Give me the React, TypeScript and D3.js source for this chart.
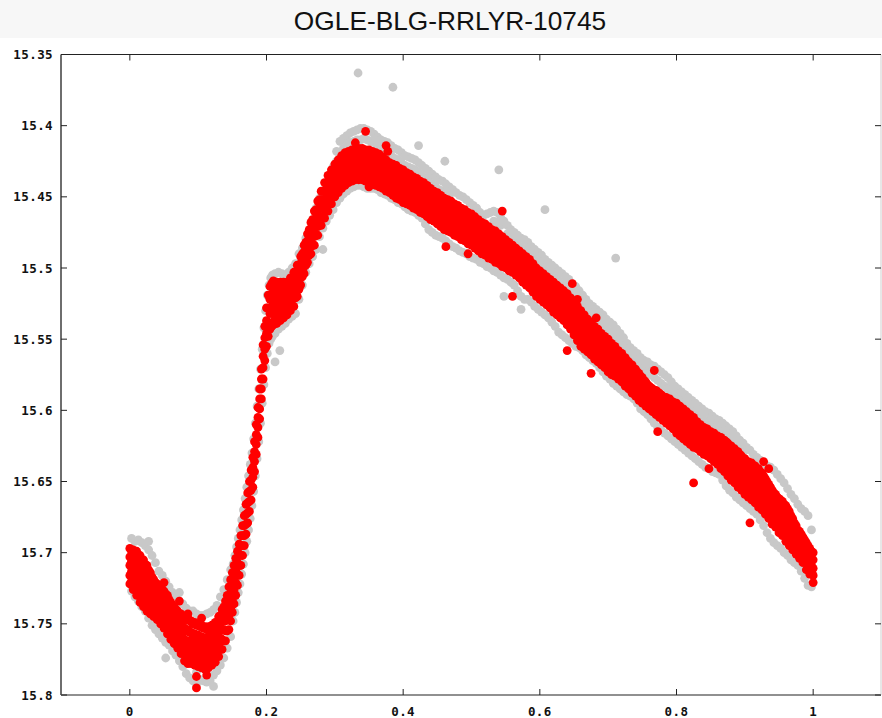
import React from 'react';
import * as d3 from 'd3';

const TITLE = 'OGLE-BLG-RRLYR-10745';
const xTicks = [0, 0.2, 0.4, 0.6, 0.8, 1];
const yTicks = [15.35, 15.4, 15.45, 15.5, 15.55, 15.6, 15.65, 15.7, 15.75, 15.8];

// Each row: [phase, mag, mag, ...] (grey = all measurements)
const grayRows: number[][] = [
  [0.0025, 15.690, 15.706, 15.727], [0.0075, 15.692, 15.731], [0.0125, 15.691, 15.704, 15.734],
  [0.0175, 15.693, 15.738], [0.0225, 15.695, 15.741], [0.0275, 15.692, 15.698, 15.746],
  [0.0325, 15.702, 15.751], [0.0375, 15.707, 15.754], [0.0425, 15.713, 15.757],
  [0.0475, 15.716, 15.760], [0.0525, 15.720, 15.763, 15.774], [0.0575, 15.724, 15.765],
  [0.0625, 15.728, 15.769], [0.0675, 15.730, 15.772], [0.0725, 15.728, 15.734, 15.776],
  [0.0775, 15.736, 15.780], [0.0825, 15.739, 15.785], [0.0875, 15.741, 15.788],
  [0.0925, 15.741, 15.790], [0.0975, 15.743, 15.784, 15.793], [0.1025, 15.744, 15.789],
  [0.1075, 15.744, 15.790], [0.1125, 15.743, 15.791], [0.1175, 15.742, 15.790],
  [0.1225, 15.740, 15.786, 15.794], [0.1275, 15.737, 15.783], [0.1325, 15.731, 15.779],
  [0.1375, 15.726, 15.774], [0.1425, 15.719, 15.767], [0.1475, 15.712, 15.759],
  [0.1512, 15.708, 15.748], [0.1537, 15.702, 15.742], [0.1562, 15.696, 15.735],
  [0.1587, 15.690, 15.728], [0.1612, 15.684, 15.722], [0.1637, 15.677, 15.715],
  [0.1662, 15.670, 15.708], [0.1687, 15.662, 15.700], [0.1712, 15.654, 15.692],
  [0.1737, 15.646, 15.684], [0.1762, 15.638, 15.676], [0.1787, 15.630, 15.667],
  [0.1812, 15.620, 15.657], [0.1837, 15.609, 15.646], [0.1862, 15.597, 15.634],
  [0.1887, 15.585, 15.622], [0.1912, 15.571, 15.609], [0.1937, 15.557, 15.595],
  [0.1962, 15.542, 15.582], [0.1987, 15.530, 15.570], [0.2012, 15.519, 15.560],
  [0.2037, 15.512, 15.553], [0.2062, 15.507, 15.550], [0.2087, 15.505, 15.548],
  [0.2125, 15.504, 15.546, 15.566], [0.2175, 15.503, 15.543], [0.2195, 15.558],
  [0.2225, 15.504, 15.541], [0.2275, 15.505, 15.539], [0.2325, 15.503, 15.536],
  [0.2375, 15.500, 15.534], [0.2425, 15.497, 15.532], [0.2475, 15.490, 15.522],
  [0.2525, 15.486, 15.512], [0.2575, 15.479, 15.503], [0.2625, 15.474, 15.497],
  [0.2675, 15.466, 15.492], [0.2725, 15.458, 15.487], [0.2775, 15.451, 15.478],
  [0.2825, 15.446, 15.472, 15.487], [0.2875, 15.440, 15.467], [0.2925, 15.436, 15.463],
  [0.2975, 15.429, 15.459], [0.3025, 15.418, 15.425, 15.454], [0.3075, 15.411, 15.421, 15.451],
  [0.3125, 15.409, 15.416, 15.448], [0.3175, 15.407, 15.414, 15.446], [0.3225, 15.405, 15.412, 15.444],
  [0.3275, 15.404, 15.411, 15.443], [0.3325, 15.403, 15.410, 15.442], [0.334, 15.363],
  [0.3375, 15.402, 15.410, 15.442], [0.3425, 15.402, 15.409, 15.443], [0.3475, 15.403, 15.410, 15.444],
  [0.3525, 15.404, 15.411, 15.444], [0.3575, 15.406, 15.412, 15.444], [0.3625, 15.408, 15.414, 15.445],
  [0.3675, 15.410, 15.416, 15.447], [0.3725, 15.411, 15.418, 15.448], [0.3775, 15.412, 15.419, 15.449],
  [0.3825, 15.414, 15.421, 15.451], [0.385, 15.373], [0.3875, 15.416, 15.423, 15.452],
  [0.3925, 15.417, 15.424, 15.454], [0.3975, 15.419, 15.426, 15.455], [0.4025, 15.421, 15.428, 15.457],
  [0.4075, 15.422, 15.429, 15.459], [0.4125, 15.423, 15.430, 15.460], [0.4175, 15.424, 15.431, 15.461],
  [0.4225, 15.414, 15.426, 15.433, 15.463], [0.4275, 15.428, 15.435, 15.465], [0.4325, 15.430, 15.437, 15.469],
  [0.4375, 15.432, 15.439, 15.473], [0.4425, 15.434, 15.441, 15.475], [0.4475, 15.436, 15.443, 15.477],
  [0.4525, 15.438, 15.445, 15.478], [0.4575, 15.439, 15.446, 15.479], [0.461, 15.425],
  [0.4625, 15.441, 15.447, 15.481], [0.4675, 15.443, 15.449, 15.483], [0.4725, 15.445, 15.485],
  [0.4775, 15.447, 15.486], [0.4825, 15.449, 15.488], [0.4875, 15.450, 15.489],
  [0.4925, 15.452, 15.490], [0.4975, 15.454, 15.492], [0.5025, 15.456, 15.493],
  [0.5075, 15.458, 15.494], [0.5125, 15.461, 15.496], [0.5175, 15.463, 15.497],
  [0.5225, 15.462, 15.499], [0.5275, 15.461, 15.500], [0.5325, 15.460, 15.467, 15.502],
  [0.5375, 15.461, 15.468, 15.503], [0.540, 15.431], [0.5425, 15.464, 15.470, 15.505],
  [0.5475, 15.467, 15.507, 15.520], [0.5525, 15.470, 15.476, 15.508], [0.5575, 15.473, 15.479, 15.510],
  [0.5625, 15.475, 15.481, 15.512], [0.5675, 15.477, 15.483, 15.516], [0.5725, 15.479, 15.485, 15.520, 15.529],
  [0.5775, 15.480, 15.487, 15.522], [0.5825, 15.482, 15.489, 15.522], [0.5875, 15.485, 15.492, 15.524],
  [0.5925, 15.487, 15.494, 15.527], [0.5975, 15.489, 15.496, 15.529], [0.6025, 15.491, 15.498, 15.531],
  [0.6075, 15.459, 15.494, 15.501, 15.533], [0.6125, 15.496, 15.503, 15.535], [0.6175, 15.498, 15.505, 15.538],
  [0.6225, 15.500, 15.507, 15.541], [0.6275, 15.502, 15.509, 15.545], [0.6325, 15.504, 15.511, 15.547],
  [0.6375, 15.506, 15.513, 15.549], [0.6425, 15.508, 15.515, 15.551], [0.6475, 15.511, 15.518, 15.553],
  [0.6525, 15.513, 15.520, 15.555], [0.6575, 15.516, 15.523, 15.556], [0.6625, 15.519, 15.526, 15.558],
  [0.6675, 15.522, 15.529, 15.561], [0.6725, 15.525, 15.532, 15.563], [0.6775, 15.527, 15.534, 15.565],
  [0.6825, 15.529, 15.536, 15.567], [0.6875, 15.531, 15.538, 15.570], [0.6925, 15.533, 15.540, 15.573],
  [0.6975, 15.536, 15.543, 15.576], [0.7025, 15.538, 15.545, 15.578], [0.7075, 15.540, 15.547, 15.581],
  [0.711, 15.493], [0.7125, 15.543, 15.550, 15.583], [0.7175, 15.546, 15.553, 15.585],
  [0.7225, 15.549, 15.556, 15.587], [0.7275, 15.553, 15.560, 15.589], [0.7325, 15.556, 15.562, 15.590],
  [0.7375, 15.558, 15.564, 15.592], [0.7425, 15.560, 15.566, 15.595], [0.7475, 15.563, 15.569, 15.599],
  [0.7525, 15.565, 15.571, 15.601], [0.7575, 15.566, 15.573, 15.603], [0.7625, 15.568, 15.575, 15.606],
  [0.7675, 15.569, 15.577, 15.609], [0.7725, 15.571, 15.579, 15.612], [0.7775, 15.573, 15.581, 15.614],
  [0.7825, 15.575, 15.583, 15.616], [0.7875, 15.577, 15.585, 15.618], [0.7925, 15.580, 15.587, 15.620],
  [0.7975, 15.583, 15.589, 15.622], [0.8025, 15.585, 15.591, 15.624], [0.8075, 15.587, 15.593, 15.626],
  [0.8125, 15.589, 15.595, 15.628], [0.8175, 15.591, 15.597, 15.630], [0.8225, 15.593, 15.599, 15.632],
  [0.8275, 15.595, 15.601, 15.634], [0.8325, 15.597, 15.603, 15.636], [0.8375, 15.599, 15.605, 15.638],
  [0.8425, 15.601, 15.607, 15.640], [0.8475, 15.602, 15.608, 15.641], [0.8525, 15.604, 15.610, 15.643],
  [0.8575, 15.606, 15.612, 15.644], [0.8625, 15.607, 15.613, 15.645], [0.8675, 15.609, 15.615, 15.649],
  [0.8725, 15.611, 15.617, 15.653], [0.8775, 15.613, 15.619, 15.656], [0.8825, 15.615, 15.621, 15.658],
  [0.8875, 15.618, 15.624, 15.661], [0.8925, 15.621, 15.627, 15.663], [0.8975, 15.623, 15.629, 15.665],
  [0.9025, 15.626, 15.667], [0.9075, 15.628, 15.669], [0.9125, 15.631, 15.671],
  [0.9175, 15.633, 15.673], [0.9225, 15.635, 15.677], [0.9275, 15.637, 15.681],
  [0.9325, 15.639, 15.686], [0.9375, 15.640, 15.690], [0.9425, 15.642, 15.693],
  [0.9475, 15.645, 15.695], [0.9525, 15.648, 15.697], [0.9575, 15.651, 15.700],
  [0.9625, 15.655, 15.702], [0.9675, 15.659, 15.705], [0.9725, 15.662, 15.707],
  [0.9775, 15.666, 15.709], [0.9825, 15.669, 15.713], [0.9875, 15.671, 15.718],
  [0.9925, 15.674, 15.723], [0.9975, 15.684, 15.724],
];

// Red measurements, minimum and first rise: [phase, mag, mag, ...]
const redRowsRise: number[][] = [
  [0.000, 15.697, 15.703, 15.709, 15.716, 15.722], [0.0025, 15.699, 15.706, 15.713, 15.720],
  [0.005, 15.698, 15.705, 15.712, 15.719, 15.726], [0.0075, 15.700, 15.708, 15.716, 15.724],
  [0.010, 15.699, 15.707, 15.715, 15.722, 15.730], [0.0125, 15.702, 15.711, 15.720, 15.729],
  [0.015, 15.702, 15.710, 15.718, 15.727, 15.735], [0.0175, 15.705, 15.714, 15.723, 15.732],
  [0.020, 15.705, 15.713, 15.721, 15.730, 15.738], [0.0225, 15.708, 15.717, 15.726, 15.735],
  [0.025, 15.709, 15.717, 15.725, 15.733, 15.741], [0.0275, 15.712, 15.721, 15.730, 15.739],
  [0.030, 15.714, 15.721, 15.728, 15.736, 15.743], [0.0325, 15.717, 15.725, 15.733, 15.741],
  [0.035, 15.719, 15.725, 15.732, 15.738, 15.745], [0.0375, 15.721, 15.728, 15.735, 15.742],
  [0.040, 15.722, 15.728, 15.734, 15.741, 15.747], [0.0425, 15.724, 15.731, 15.738, 15.745],
  [0.045, 15.724, 15.730, 15.737, 15.743, 15.750], [0.0475, 15.726, 15.733, 15.740, 15.747],
  [0.050, 15.721, 15.727, 15.733, 15.740, 15.746, 15.753], [0.0525, 15.729, 15.736, 15.743, 15.750],
  [0.055, 15.730, 15.737, 15.743, 15.750, 15.757], [0.0575, 15.733, 15.740, 15.747, 15.754],
  [0.060, 15.735, 15.741, 15.748, 15.754, 15.761], [0.0625, 15.737, 15.744, 15.751, 15.758],
  [0.065, 15.738, 15.744, 15.751, 15.757, 15.764], [0.0675, 15.740, 15.747, 15.754, 15.761],
  [0.070, 15.741, 15.747, 15.754, 15.760, 15.767], [0.0725, 15.734, 15.743, 15.750, 15.757, 15.765],
  [0.075, 15.743, 15.750, 15.757, 15.764, 15.771], [0.0775, 15.745, 15.752, 15.760, 15.768],
  [0.080, 15.745, 15.753, 15.761, 15.768, 15.776], [0.0825, 15.747, 15.755, 15.763, 15.772],
  [0.085, 15.743, 15.746, 15.754, 15.762, 15.770, 15.778], [0.0875, 15.748, 15.756, 15.765, 15.774],
  [0.090, 15.748, 15.756, 15.763, 15.771, 15.778], [0.0925, 15.750, 15.758, 15.766, 15.775],
  [0.095, 15.749, 15.757, 15.764, 15.772, 15.779], [0.0975, 15.751, 15.759, 15.768, 15.776, 15.787, 15.795],
  [0.100, 15.750, 15.758, 15.765, 15.773, 15.780], [0.1025, 15.752, 15.760, 15.769, 15.777],
  [0.105, 15.746, 15.751, 15.759, 15.766, 15.774, 15.781], [0.1075, 15.753, 15.761, 15.770, 15.778],
  [0.110, 15.752, 15.760, 15.767, 15.775, 15.782], [0.1125, 15.754, 15.762, 15.771, 15.779, 15.786],
  [0.115, 15.752, 15.759, 15.767, 15.774, 15.781], [0.1175, 15.754, 15.762, 15.770, 15.778],
  [0.120, 15.751, 15.758, 15.765, 15.772, 15.779], [0.1225, 15.752, 15.760, 15.768, 15.776],
  [0.125, 15.749, 15.756, 15.763, 15.770, 15.777], [0.1275, 15.749, 15.757, 15.765, 15.773],
  [0.130, 15.745, 15.752, 15.759, 15.766, 15.773], [0.1325, 15.744, 15.752, 15.760, 15.768],
  [0.135, 15.740, 15.747, 15.754, 15.761, 15.768], [0.1375, 15.738, 15.746, 15.754, 15.762],
  [0.140, 15.734, 15.741, 15.748, 15.755, 15.762], [0.1425, 15.730, 15.738, 15.746, 15.755],
  [0.145, 15.724, 15.734, 15.744, 15.754], [0.1475, 15.719, 15.729, 15.739, 15.748],
  [0.150, 15.714, 15.723, 15.733, 15.742], [0.1525, 15.709, 15.718, 15.727, 15.736],
  [0.155, 15.704, 15.713, 15.721, 15.730], [0.1575, 15.699, 15.707, 15.715, 15.723],
  [0.160, 15.694, 15.701, 15.709, 15.716], [0.1625, 15.688, 15.695, 15.702, 15.709],
  [0.165, 15.681, 15.688, 15.695, 15.702], [0.1675, 15.674, 15.681, 15.688, 15.695],
  [0.170, 15.666, 15.673, 15.680, 15.687], [0.1725, 15.658, 15.665, 15.672, 15.679],
  [0.175, 15.650, 15.657, 15.664, 15.671], [0.1775, 15.642, 15.649, 15.656, 15.663],
  [0.180, 15.633, 15.640, 15.647, 15.654], [0.1825, 15.622, 15.629, 15.636, 15.643],
  [0.185, 15.610, 15.617, 15.624, 15.631], [0.1875, 15.598, 15.605, 15.612, 15.619],
  [0.190, 15.585, 15.592, 15.599, 15.606], [0.1925, 15.571, 15.578, 15.585, 15.592],
  [0.195, 15.554, 15.562, 15.570, 15.578], [0.1975, 15.541, 15.549, 15.557, 15.565],
  [0.200, 15.528, 15.537, 15.546, 15.555], [0.2025, 15.519, 15.528, 15.538, 15.548],
  [0.205, 15.513, 15.522, 15.532, 15.543], [0.2075, 15.511, 15.520, 15.530, 15.541],
];

// Red measurements, shoulder, maximum and decline: [phase, mag, mag, ...]
const redRowsFall: number[][] = [
  [0.210, 15.509, 15.517, 15.525, 15.532, 15.540], [0.2125, 15.513, 15.521, 15.529, 15.536],
  [0.215, 15.510, 15.517, 15.525, 15.532, 15.539], [0.2175, 15.514, 15.521, 15.528, 15.535],
  [0.220, 15.510, 15.517, 15.524, 15.530, 15.537], [0.2225, 15.513, 15.520, 15.527, 15.534],
  [0.225, 15.510, 15.516, 15.522, 15.529, 15.535], [0.2275, 15.513, 15.519, 15.526, 15.532],
  [0.230, 15.510, 15.516, 15.521, 15.527, 15.533], [0.2325, 15.511, 15.517, 15.523, 15.529],
  [0.235, 15.507, 15.513, 15.518, 15.524, 15.530], [0.2375, 15.508, 15.514, 15.520, 15.526],
  [0.240, 15.503, 15.509, 15.515, 15.521, 15.527], [0.2425, 15.503, 15.509, 15.515, 15.521],
  [0.245, 15.498, 15.504, 15.509, 15.515, 15.520], [0.2475, 15.498, 15.504, 15.510, 15.515],
  [0.250, 15.492, 15.497, 15.502, 15.507, 15.512], [0.2525, 15.490, 15.495, 15.501, 15.506],
  [0.255, 15.484, 15.489, 15.494, 15.499, 15.504], [0.2575, 15.482, 15.487, 15.493, 15.498],
  [0.260, 15.476, 15.481, 15.486, 15.491, 15.496], [0.2625, 15.473, 15.479, 15.485, 15.491],
  [0.265, 15.468, 15.474, 15.479, 15.485, 15.490], [0.2675, 15.466, 15.472, 15.478, 15.484],
  [0.270, 15.460, 15.466, 15.472, 15.478, 15.484], [0.2725, 15.459, 15.465, 15.471, 15.477],
  [0.275, 15.453, 15.459, 15.465, 15.471, 15.477], [0.2775, 15.452, 15.458, 15.464, 15.470],
  [0.280, 15.446, 15.452, 15.458, 15.464, 15.470], [0.2825, 15.446, 15.452, 15.458, 15.464],
  [0.285, 15.440, 15.446, 15.452, 15.459, 15.465], [0.2875, 15.441, 15.447, 15.453, 15.459],
  [0.290, 15.435, 15.441, 15.447, 15.454, 15.460], [0.2925, 15.436, 15.442, 15.448, 15.454],
  [0.295, 15.431, 15.437, 15.443, 15.449, 15.455], [0.2975, 15.432, 15.438, 15.444, 15.450],
  [0.300, 15.427, 15.433, 15.438, 15.444, 15.450], [0.3025, 15.428, 15.434, 15.440, 15.446],
  [0.305, 15.424, 15.430, 15.435, 15.441, 15.447], [0.3075, 15.425, 15.431, 15.437, 15.443],
  [0.310, 15.421, 15.427, 15.432, 15.438, 15.444], [0.3125, 15.422, 15.428, 15.434, 15.440],
  [0.315, 15.419, 15.425, 15.430, 15.436, 15.442], [0.3175, 15.421, 15.427, 15.433, 15.439],
  [0.320, 15.418, 15.423, 15.429, 15.434, 15.440], [0.3225, 15.420, 15.426, 15.432, 15.437],
  [0.325, 15.417, 15.422, 15.428, 15.433, 15.439], [0.3275, 15.419, 15.425, 15.431, 15.436],
  [0.330, 15.412, 15.417, 15.422, 15.427, 15.433, 15.438], [0.3325, 15.419, 15.424, 15.430, 15.435],
  [0.335, 15.416, 15.422, 15.427, 15.433, 15.438], [0.3375, 15.419, 15.424, 15.430, 15.435],
  [0.340, 15.416, 15.422, 15.427, 15.433, 15.438], [0.3425, 15.419, 15.424, 15.430, 15.435],
  [0.345, 15.404, 15.417, 15.422, 15.428, 15.433, 15.439], [0.3475, 15.420, 15.425, 15.431, 15.436],
  [0.350, 15.417, 15.423, 15.428, 15.434, 15.440, 15.443], [0.3525, 15.420, 15.426, 15.432, 15.437],
  [0.355, 15.418, 15.424, 15.429, 15.435, 15.441], [0.3575, 15.421, 15.427, 15.433, 15.438],
  [0.360, 15.419, 15.425, 15.430, 15.436, 15.442], [0.3625, 15.422, 15.428, 15.434, 15.439],
  [0.365, 15.420, 15.426, 15.431, 15.437, 15.443], [0.3675, 15.423, 15.429, 15.435, 15.441],
  [0.370, 15.422, 15.427, 15.433, 15.438, 15.444], [0.3725, 15.425, 15.431, 15.436, 15.442],
  [0.375, 15.414, 15.424, 15.429, 15.435, 15.440, 15.446], [0.3775, 15.418, 15.427, 15.432, 15.438, 15.443],
  [0.380, 15.426, 15.431, 15.436, 15.442, 15.447], [0.3825, 15.428, 15.434, 15.439, 15.444],
  [0.385, 15.427, 15.433, 15.438, 15.444, 15.449], [0.3875, 15.430, 15.435, 15.441, 15.446],
  [0.390, 15.428, 15.434, 15.440, 15.445, 15.451], [0.3925, 15.431, 15.437, 15.443, 15.448],
  [0.395, 15.430, 15.435, 15.441, 15.446, 15.452], [0.3975, 15.432, 15.438, 15.444, 15.450],
  [0.400, 15.431, 15.437, 15.442, 15.448, 15.454], [0.4025, 15.434, 15.440, 15.446, 15.451],
  [0.405, 15.433, 15.438, 15.444, 15.449, 15.455], [0.4075, 15.435, 15.441, 15.447, 15.452],
  [0.410, 15.434, 15.440, 15.445, 15.451, 15.456], [0.4125, 15.437, 15.443, 15.448, 15.454],
  [0.415, 15.436, 15.441, 15.447, 15.452, 15.458], [0.4175, 15.438, 15.444, 15.450, 15.455],
  [0.420, 15.437, 15.443, 15.448, 15.454, 15.459], [0.4225, 15.440, 15.445, 15.451, 15.457],
  [0.425, 15.439, 15.444, 15.450, 15.455, 15.461], [0.4275, 15.441, 15.447, 15.453, 15.458],
  [0.430, 15.440, 15.446, 15.451, 15.457, 15.462], [0.4325, 15.443, 15.449, 15.454, 15.460],
  [0.435, 15.442, 15.448, 15.453, 15.459, 15.464], [0.4375, 15.445, 15.450, 15.456, 15.462],
  [0.440, 15.444, 15.449, 15.455, 15.460, 15.466], [0.4425, 15.446, 15.452, 15.458, 15.463],
  [0.445, 15.446, 15.451, 15.456, 15.462, 15.467], [0.4475, 15.448, 15.454, 15.459, 15.465],
  [0.450, 15.447, 15.453, 15.458, 15.464, 15.469], [0.4525, 15.450, 15.455, 15.461, 15.466],
  [0.455, 15.449, 15.454, 15.460, 15.465, 15.471], [0.4575, 15.451, 15.457, 15.463, 15.468],
  [0.460, 15.451, 15.456, 15.462, 15.467, 15.473], [0.4625, 15.452, 15.458, 15.464, 15.470, 15.485],
  [0.465, 15.452, 15.458, 15.463, 15.469, 15.474], [0.4675, 15.454, 15.460, 15.466, 15.471],
  [0.470, 15.453, 15.459, 15.464, 15.470, 15.475], [0.4725, 15.456, 15.461, 15.467, 15.472],
  [0.475, 15.455, 15.460, 15.466, 15.471, 15.477], [0.4775, 15.457, 15.463, 15.468, 15.474],
  [0.480, 15.456, 15.462, 15.467, 15.473, 15.478], [0.4825, 15.459, 15.464, 15.470, 15.475],
  [0.485, 15.458, 15.463, 15.469, 15.474, 15.480], [0.4875, 15.460, 15.466, 15.472, 15.477],
  [0.490, 15.459, 15.465, 15.470, 15.476, 15.481], [0.4925, 15.462, 15.467, 15.473, 15.479],
  [0.495, 15.461, 15.466, 15.472, 15.477, 15.483, 15.490], [0.4975, 15.463, 15.469, 15.475, 15.480],
  [0.500, 15.462, 15.468, 15.473, 15.479, 15.484], [0.5025, 15.465, 15.471, 15.476, 15.482],
  [0.505, 15.464, 15.469, 15.475, 15.480, 15.486], [0.5075, 15.467, 15.472, 15.478, 15.484],
  [0.510, 15.466, 15.471, 15.477, 15.482, 15.488], [0.5125, 15.469, 15.474, 15.480, 15.486],
  [0.515, 15.468, 15.473, 15.479, 15.484, 15.490], [0.5175, 15.470, 15.476, 15.482, 15.487],
  [0.520, 15.469, 15.475, 15.480, 15.486, 15.491], [0.5225, 15.472, 15.478, 15.483, 15.489],
  [0.525, 15.471, 15.476, 15.482, 15.487, 15.493], [0.5275, 15.474, 15.479, 15.485, 15.490],
  [0.530, 15.473, 15.478, 15.484, 15.489, 15.494], [0.5325, 15.475, 15.481, 15.486, 15.492],
  [0.535, 15.474, 15.480, 15.485, 15.491, 15.496], [0.5375, 15.477, 15.482, 15.488, 15.493],
  [0.540, 15.476, 15.481, 15.487, 15.492, 15.497], [0.5425, 15.478, 15.484, 15.489, 15.495],
  [0.545, 15.460, 15.478, 15.483, 15.489, 15.494, 15.499], [0.5475, 15.480, 15.486, 15.491, 15.496],
  [0.550, 15.480, 15.485, 15.490, 15.495, 15.500], [0.5525, 15.482, 15.487, 15.493, 15.498],
  [0.555, 15.482, 15.487, 15.492, 15.497, 15.502], [0.5575, 15.484, 15.489, 15.495, 15.500],
  [0.560, 15.484, 15.489, 15.494, 15.498, 15.503, 15.520], [0.5625, 15.486, 15.491, 15.496, 15.502],
  [0.565, 15.486, 15.491, 15.496, 15.500, 15.505], [0.5675, 15.488, 15.493, 15.498, 15.503],
  [0.570, 15.488, 15.493, 15.498, 15.502, 15.507], [0.5725, 15.490, 15.495, 15.500, 15.506],
  [0.575, 15.490, 15.495, 15.500, 15.505, 15.510], [0.5775, 15.492, 15.497, 15.503, 15.508],
  [0.580, 15.492, 15.497, 15.502, 15.507, 15.512], [0.5825, 15.495, 15.500, 15.505, 15.510],
  [0.585, 15.494, 15.499, 15.504, 15.509, 15.514], [0.5875, 15.497, 15.502, 15.507, 15.513],
  [0.590, 15.497, 15.502, 15.507, 15.512, 15.517], [0.5925, 15.500, 15.505, 15.510, 15.515],
  [0.595, 15.500, 15.505, 15.510, 15.515, 15.520], [0.5975, 15.502, 15.507, 15.512, 15.518],
  [0.600, 15.502, 15.507, 15.512, 15.517, 15.522], [0.6025, 15.504, 15.509, 15.514, 15.520],
  [0.605, 15.504, 15.509, 15.514, 15.519, 15.524], [0.6075, 15.506, 15.511, 15.517, 15.522],
  [0.610, 15.506, 15.511, 15.516, 15.521, 15.526], [0.6125, 15.508, 15.513, 15.519, 15.524],
  [0.615, 15.508, 15.513, 15.518, 15.523, 15.528], [0.6175, 15.510, 15.516, 15.521, 15.527],
  [0.620, 15.510, 15.515, 15.520, 15.526, 15.531], [0.6225, 15.512, 15.518, 15.523, 15.529],
  [0.625, 15.512, 15.517, 15.522, 15.528, 15.533], [0.6275, 15.514, 15.520, 15.525, 15.531],
  [0.630, 15.514, 15.519, 15.524, 15.530, 15.535], [0.6325, 15.516, 15.522, 15.527, 15.533],
  [0.635, 15.516, 15.521, 15.526, 15.532, 15.537], [0.6375, 15.518, 15.524, 15.530, 15.535],
  [0.640, 15.518, 15.523, 15.529, 15.534, 15.540, 15.558], [0.6425, 15.521, 15.527, 15.533, 15.538],
  [0.645, 15.521, 15.526, 15.532, 15.537, 15.543], [0.6475, 15.511, 15.524, 15.530, 15.536, 15.542],
  [0.650, 15.524, 15.530, 15.535, 15.541, 15.547], [0.6525, 15.527, 15.533, 15.539, 15.545],
  [0.655, 15.522, 15.527, 15.533, 15.539, 15.545, 15.551], [0.6575, 15.530, 15.536, 15.542, 15.548],
  [0.660, 15.530, 15.536, 15.542, 15.549, 15.555], [0.6625, 15.533, 15.539, 15.546, 15.552],
  [0.665, 15.533, 15.539, 15.545, 15.551, 15.557], [0.6675, 15.536, 15.542, 15.548, 15.554],
  [0.670, 15.536, 15.542, 15.547, 15.553, 15.559], [0.6725, 15.539, 15.545, 15.551, 15.556],
  [0.675, 15.538, 15.544, 15.550, 15.555, 15.561, 15.574], [0.6775, 15.541, 15.547, 15.553, 15.559],
  [0.680, 15.541, 15.547, 15.552, 15.558, 15.564], [0.6825, 15.535, 15.544, 15.550, 15.556, 15.561],
  [0.685, 15.543, 15.549, 15.555, 15.560, 15.566], [0.6875, 15.546, 15.552, 15.558, 15.563],
  [0.690, 15.546, 15.551, 15.557, 15.562, 15.568], [0.6925, 15.549, 15.554, 15.560, 15.566],
  [0.695, 15.548, 15.554, 15.559, 15.565, 15.570], [0.6975, 15.551, 15.557, 15.562, 15.568],
  [0.700, 15.550, 15.556, 15.561, 15.567, 15.573], [0.7025, 15.553, 15.559, 15.565, 15.570],
  [0.705, 15.553, 15.558, 15.564, 15.569, 15.575], [0.7075, 15.556, 15.561, 15.567, 15.572],
  [0.710, 15.555, 15.560, 15.566, 15.571, 15.576], [0.7125, 15.558, 15.563, 15.569, 15.574],
  [0.715, 15.558, 15.563, 15.568, 15.573, 15.578], [0.7175, 15.560, 15.565, 15.571, 15.576],
  [0.720, 15.560, 15.565, 15.570, 15.575, 15.580], [0.7225, 15.563, 15.568, 15.573, 15.579],
  [0.725, 15.563, 15.568, 15.573, 15.578, 15.583], [0.7275, 15.565, 15.570, 15.576, 15.581],
  [0.730, 15.566, 15.571, 15.575, 15.580, 15.585], [0.7325, 15.568, 15.573, 15.578, 15.583],
  [0.735, 15.568, 15.573, 15.578, 15.583, 15.588], [0.7375, 15.571, 15.576, 15.581, 15.586],
  [0.740, 15.571, 15.576, 15.580, 15.585, 15.590], [0.7425, 15.573, 15.578, 15.583, 15.588],
  [0.745, 15.574, 15.579, 15.583, 15.588, 15.593], [0.7475, 15.576, 15.581, 15.586, 15.591],
  [0.750, 15.577, 15.581, 15.586, 15.590, 15.595], [0.7525, 15.579, 15.584, 15.588, 15.593],
  [0.755, 15.580, 15.584, 15.588, 15.593, 15.597], [0.7575, 15.582, 15.586, 15.591, 15.595],
  [0.760, 15.583, 15.587, 15.591, 15.595, 15.599], [0.7625, 15.584, 15.589, 15.594, 15.598],
  [0.765, 15.585, 15.589, 15.593, 15.597, 15.601], [0.7675, 15.572, 15.586, 15.591, 15.596, 15.600],
  [0.770, 15.586, 15.590, 15.594, 15.599, 15.603], [0.7725, 15.587, 15.592, 15.597, 15.602, 15.615],
  [0.775, 15.588, 15.592, 15.596, 15.601, 15.605], [0.7775, 15.589, 15.594, 15.599, 15.604],
  [0.780, 15.590, 15.594, 15.598, 15.603, 15.607], [0.7825, 15.591, 15.596, 15.601, 15.606],
  [0.785, 15.591, 15.595, 15.600, 15.604, 15.609], [0.7875, 15.592, 15.597, 15.603, 15.608],
  [0.790, 15.592, 15.597, 15.601, 15.606, 15.611], [0.7925, 15.594, 15.599, 15.604, 15.609],
  [0.795, 15.594, 15.599, 15.603, 15.608, 15.613], [0.7975, 15.596, 15.601, 15.606, 15.612],
  [0.800, 15.595, 15.600, 15.605, 15.611, 15.616], [0.8025, 15.597, 15.603, 15.608, 15.614],
  [0.805, 15.597, 15.602, 15.607, 15.613, 15.618], [0.8075, 15.600, 15.605, 15.610, 15.616],
  [0.810, 15.599, 15.604, 15.609, 15.615, 15.620], [0.8125, 15.601, 15.607, 15.612, 15.618],
  [0.815, 15.601, 15.606, 15.611, 15.617, 15.622], [0.8175, 15.604, 15.609, 15.614, 15.620],
  [0.820, 15.603, 15.608, 15.613, 15.619, 15.624], [0.8225, 15.606, 15.611, 15.616, 15.622],
  [0.825, 15.605, 15.610, 15.615, 15.621, 15.626, 15.651], [0.8275, 15.608, 15.613, 15.618, 15.624],
  [0.830, 15.608, 15.613, 15.617, 15.622, 15.627], [0.8325, 15.610, 15.615, 15.620, 15.625],
  [0.835, 15.610, 15.615, 15.619, 15.624, 15.629], [0.8375, 15.612, 15.617, 15.622, 15.627],
  [0.840, 15.612, 15.617, 15.621, 15.626, 15.631], [0.8425, 15.613, 15.618, 15.623, 15.628],
  [0.845, 15.613, 15.618, 15.622, 15.627, 15.632], [0.8475, 15.615, 15.620, 15.625, 15.630, 15.641],
  [0.850, 15.615, 15.620, 15.624, 15.629, 15.634], [0.8525, 15.616, 15.621, 15.626, 15.631],
  [0.855, 15.616, 15.621, 15.626, 15.631, 15.636], [0.8575, 15.618, 15.623, 15.628, 15.633],
  [0.860, 15.618, 15.623, 15.628, 15.633, 15.638], [0.8625, 15.619, 15.624, 15.630, 15.636],
  [0.865, 15.619, 15.625, 15.630, 15.636, 15.641], [0.8675, 15.621, 15.627, 15.633, 15.638],
  [0.870, 15.621, 15.626, 15.632, 15.637, 15.643], [0.8725, 15.622, 15.628, 15.634, 15.641],
  [0.875, 15.623, 15.629, 15.634, 15.640, 15.646], [0.8775, 15.625, 15.631, 15.637, 15.644],
  [0.880, 15.625, 15.631, 15.637, 15.643, 15.649], [0.8825, 15.627, 15.633, 15.640, 15.646],
  [0.885, 15.627, 15.633, 15.639, 15.645, 15.651], [0.8875, 15.629, 15.635, 15.642, 15.648],
  [0.890, 15.629, 15.635, 15.642, 15.648, 15.654], [0.8925, 15.631, 15.638, 15.644, 15.651],
  [0.895, 15.632, 15.638, 15.644, 15.650, 15.656], [0.8975, 15.634, 15.640, 15.647, 15.653],
  [0.900, 15.634, 15.640, 15.647, 15.653, 15.659], [0.9025, 15.636, 15.643, 15.649, 15.656],
  [0.905, 15.636, 15.642, 15.649, 15.655, 15.661], [0.9075, 15.637, 15.644, 15.651, 15.658, 15.679],
  [0.910, 15.637, 15.644, 15.650, 15.657, 15.663], [0.9125, 15.639, 15.646, 15.653, 15.660],
  [0.915, 15.639, 15.646, 15.652, 15.659, 15.665], [0.9175, 15.641, 15.648, 15.655, 15.663],
  [0.920, 15.641, 15.648, 15.655, 15.661, 15.668], [0.9225, 15.643, 15.650, 15.658, 15.665],
  [0.925, 15.644, 15.651, 15.657, 15.664, 15.670], [0.9275, 15.636, 15.646, 15.653, 15.661, 15.668],
  [0.930, 15.648, 15.654, 15.661, 15.667, 15.673], [0.9325, 15.650, 15.657, 15.664, 15.670],
  [0.935, 15.641, 15.652, 15.658, 15.664, 15.670, 15.676], [0.9375, 15.654, 15.661, 15.667, 15.673],
  [0.940, 15.656, 15.662, 15.668, 15.674, 15.680], [0.9425, 15.658, 15.664, 15.671, 15.677],
  [0.945, 15.659, 15.665, 15.671, 15.676, 15.682], [0.9475, 15.661, 15.667, 15.673, 15.679],
  [0.950, 15.662, 15.668, 15.674, 15.680, 15.686], [0.9525, 15.663, 15.670, 15.676, 15.683],
  [0.955, 15.664, 15.670, 15.676, 15.682, 15.688], [0.9575, 15.666, 15.672, 15.679, 15.685],
  [0.960, 15.667, 15.673, 15.680, 15.686, 15.692], [0.9625, 15.669, 15.676, 15.683, 15.689],
  [0.965, 15.671, 15.677, 15.683, 15.689, 15.695], [0.9675, 15.674, 15.680, 15.686, 15.692],
  [0.970, 15.676, 15.682, 15.687, 15.693, 15.698], [0.9725, 15.679, 15.685, 15.690, 15.696],
  [0.975, 15.681, 15.686, 15.691, 15.696, 15.701], [0.9775, 15.684, 15.689, 15.694, 15.699],
  [0.980, 15.685, 15.690, 15.694, 15.699, 15.704], [0.9825, 15.687, 15.692, 15.697, 15.702],
  [0.985, 15.689, 15.694, 15.698, 15.703, 15.707], [0.9875, 15.691, 15.696, 15.701, 15.706],
  [0.990, 15.693, 15.698, 15.702, 15.707, 15.712], [0.9925, 15.695, 15.700, 15.705, 15.710],
  [0.995, 15.697, 15.701, 15.706, 15.710, 15.715], [0.9975, 15.699, 15.704, 15.709, 15.714],
  [1.000, 15.700, 15.705, 15.711, 15.716, 15.721],
];

const W = 882;
const H = 718;

function rowsToPoints(rows: number[][]): [number, number][] {
  const out: [number, number][] = [];
  rows.forEach((r) => {
    for (let i = 1; i < r.length; i++) out.push([r[0], r[i]]);
  });
  return out;
}

export default function App() {
  const x = d3.scaleLinear().domain([-0.1, 1.1]).range([61.5, 881.5]);
  const y = d3.scaleLinear().domain([15.35, 15.8]).range([54.5, 695]);
  const gray = rowsToPoints(grayRows);
  const red = rowsToPoints(redRowsRise.concat(redRowsFall));
  const labelFont = '"DejaVu Sans Mono", monospace';
  const left = 61;
  const right = 881;
  const top = 54.5;
  const bottom = 695;
  return (
    <svg
      width={W}
      height={H}
      style={{ position: 'absolute', left: 0, top: 0, display: 'block' }}
      xmlns="http://www.w3.org/2000/svg"
    >
      <rect x={0} y={0} width={W} height={H} fill="#ffffff" />
      <rect x={0} y={0} width={W} height={38} fill="#f7f7f7" />
      <text
        x={450}
        y={30}
        textAnchor="middle"
        fontFamily='"Liberation Sans", Arial, sans-serif'
        fontSize={26.3}
        fill="#111"
      >
        {TITLE}
      </text>

      <g>
        {gray.map((p, i) => (
          <circle key={'g' + i} cx={x(p[0])} cy={y(p[1])} r={4.4} fill="#c8c8c8" />
        ))}
        {red.map((p, i) => (
          <circle key={'r' + i} cx={x(p[0])} cy={y(p[1])} r={4.4} fill="#ff0000" />
        ))}
      </g>

      <line x1={left} y1={top} x2={right} y2={top} stroke="#222" strokeWidth={1.2} />
      <line x1={left} y1={bottom} x2={right} y2={bottom} stroke="#222" strokeWidth={1.2} />
      <line x1={right} y1={top} x2={right} y2={bottom} stroke="#cfcfcf" strokeWidth={1} />
      <line x1={left} y1={top} x2={left} y2={bottom} stroke="#6e6e6e" strokeWidth={2} />

      {xTicks.map((t) => (
        <g key={'xt' + t}>
          <line x1={x(t)} x2={x(t)} y1={bottom} y2={bottom - 6} stroke="#222" />
          <line x1={x(t)} x2={x(t)} y1={top} y2={top + 6} stroke="#222" />
          <text
            x={x(t)}
            y={716}
            textAnchor="middle"
            fontFamily={labelFont}
            fontWeight="bold"
            fontSize={12.5}
            letterSpacing={0.4}
            fill="#111"
          >
            {String(t)}
          </text>
        </g>
      ))}
      {yTicks.map((t) => (
        <g key={'yt' + t}>
          <line x1={left} x2={left + 6} y1={y(t)} y2={y(t)} stroke="#222" />
          <line x1={right} x2={right - 6} y1={y(t)} y2={y(t)} stroke="#222" />
          <text
            x={53}
            y={y(t) + 4.5}
            textAnchor="end"
            fontFamily={labelFont}
            fontWeight="bold"
            fontSize={12.5}
            letterSpacing={0.4}
            fill="#111"
          >
            {String(t)}
          </text>
        </g>
      ))}
    </svg>
  );
}
